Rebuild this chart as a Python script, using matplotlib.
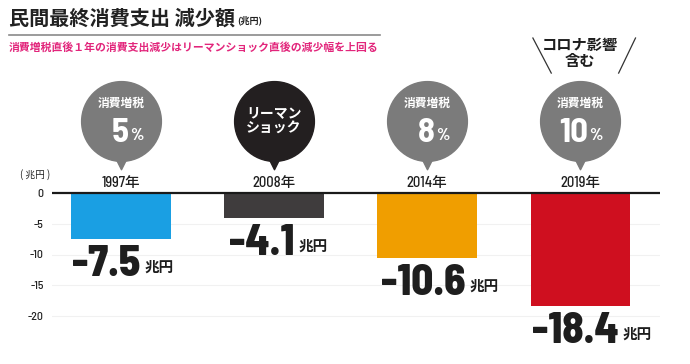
import matplotlib
matplotlib.use("Agg")
import matplotlib.pyplot as plt

plt.rcParams['font.family'] = ['Noto Sans CJK JP', 'DejaVu Sans']

years = ["1997年", "2008年", "2014年", "2019年"]
values = [-7.5, -4.1, -10.6, -18.4]
value_labels = ["-7.5", "-4.1", "-10.6", "-18.4"]
bubble_top = ["消費増税", "リーマン\nショック", "消費増税", "消費増税"]
bubble_num = ["5", "", "8", "10"]
yticks = [0, -5, -10, -15, -20]

bar_colors = ["#1a9fe3", "#3f3c3d", "#f09e00", "#cf0f1f"]
bubble_colors = ["#7b7b7b", "#231f20", "#7b7b7b", "#7b7b7b"]
num_font = ["Barlow Semi Condensed", "DejaVu Sans"]
mix_font = ["Barlow Semi Condensed", "Noto Sans CJK JP"]

fig = plt.figure(figsize=(6.9, 3.64), dpi=100)
ax = fig.add_axes([52 / 690, 0, 608 / 690, 1])
ppu = 6.15  # pixels per unit
ax.set_ylim(-(364 - 193) / ppu, 193 / ppu)
ax.set_xlim(-0.45, 3.52)
for s in ax.spines.values():
    s.set_visible(False)

x = list(range(len(values)))
for t in yticks[1:]:
    ax.axhline(t, color="#f1f1f1", lw=0.8, zorder=0)
ax.bar(x, values, width=0.65, color=bar_colors, zorder=2)
ax.axhline(0, color="#1a1a1a", lw=1.6, zorder=3)

ax.set_xticks([])
ax.set_yticks(yticks)
ax.set_yticklabels([str(t) for t in yticks], fontsize=8.5, color="#222222",
                   family=num_font, fontweight="medium")
ax.tick_params(axis="y", length=0, pad=6)

# value labels
for i, (v, lab) in enumerate(zip(values, value_labels)):
    xa = i + 0.12 * (len(lab) - 3) + 0.01
    ax.annotate(lab, (xa, v), xytext=(0, -18), textcoords="offset points",
                ha="right", va="center", fontsize=31, fontweight="heavy",
                family=num_font, color="#1e1e1e")
    ax.annotate("兆円", (xa, v), xytext=(3, -20), textcoords="offset points",
                ha="left", va="center", fontsize=10.5, fontweight="bold",
                color="#1e1e1e")

# bubbles
by = (193 - 121) / ppu
ty = (193 - 162) / ppu
for i in x:
    ax.scatter([i], [by], s=3300, color=bubble_colors[i], zorder=4, clip_on=False)
    ax.scatter([i], [ty], s=110, marker="v", color=bubble_colors[i], zorder=4, clip_on=False)
    ax.text(i, 1.6, years[i], ha="center", va="center", fontsize=10.5,
            family=mix_font, fontweight="medium", color="#1e1e1e")
    if bubble_num[i]:
        ax.text(i, (193 - 103) / ppu, bubble_top[i], ha="center", va="center",
                fontsize=8.5, fontweight="bold", color="white", zorder=5)
        ax.text(i + 0.05, (193 - 133) / ppu, bubble_num[i], ha="right", va="center",
                fontsize=25, fontweight="bold", family=num_font, color="white", zorder=5)
        ax.text(i + 0.06, (193 - 135) / ppu, "%", ha="left", va="center",
                fontsize=12, fontweight="bold", family=num_font, color="white", zorder=5)
    else:
        ax.text(i, by, bubble_top[i], ha="center", va="center", fontsize=10,
                fontweight="bold", color="white", linespacing=1.15, zorder=5)

# covid note
ax.text(3, (193 - 53) / ppu, "コロナ影響\n含む", ha="center", va="center",
        fontsize=11, fontweight="bold", color="#1e1e1e", linespacing=1.05)
ax.plot([2.69, 2.81], [25.2, 19.5], color="#333333", lw=0.9, clip_on=False)
ax.plot([3.36, 3.25], [25.2, 19.5], color="#333333", lw=0.9, clip_on=False)

# titles
fig.text(9 / 690, 1 - 18 / 364, "民間最終消費支出 減少額", ha="left", va="center",
         fontsize=14.5, fontweight="bold", color="#222222")
fig.text(237 / 690, 1 - 20 / 364, "(兆円)", ha="left", va="center",
         fontsize=6.5, fontweight="bold", color="#222222")
fig.add_artist(plt.Line2D([9 / 690, 380 / 690], [1 - 35 / 364, 1 - 35 / 364],
                          color="#8a8a8a", lw=1.2))
fig.text(9 / 690, 1 - 47 / 364, "消費増税直後１年の消費支出減少はリーマンショック直後の減少幅を上回る",
         ha="left", va="center", fontsize=7.8, fontweight="bold", color="#e2257b")
fig.text(35 / 690, 1 - 175 / 364, "( 兆円 )", ha="center", va="center",
         fontsize=7, color="#222222")

fig.savefig("out.png", dpi=100)
